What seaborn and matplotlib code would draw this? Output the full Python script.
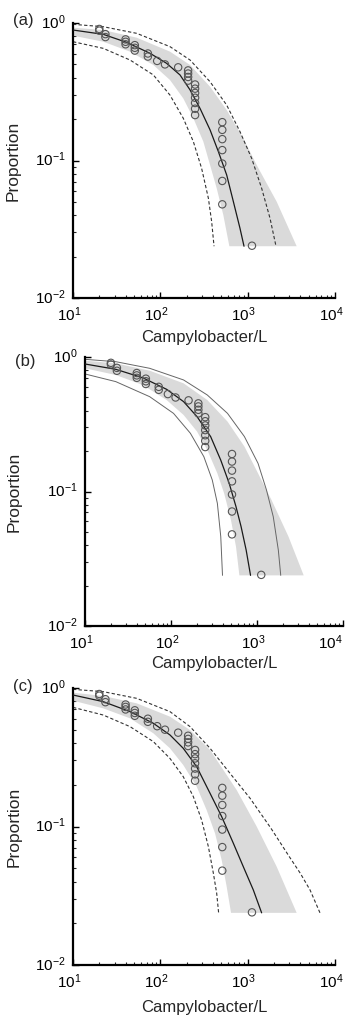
import matplotlib
matplotlib.use("Agg")
import matplotlib.pyplot as plt
import pandas as pd
import seaborn as sns
from matplotlib.ticker import LogLocator, NullFormatter
from matplotlib.transforms import ScaledTranslation

# Observed concentrations and the proportion of samples exceeding them
obs_conc = [20, 20, 23.5, 23.5, 40, 40, 40, 51, 51, 51, 72, 72, 92, 113, 160,
            208, 208, 208, 208, 250, 250, 250, 250, 250, 250, 250,
            512, 512, 512, 512, 512, 512, 512, 1120]
obs_prop = [0.905, 0.88, 0.83, 0.79, 0.76, 0.73, 0.70, 0.69, 0.66, 0.63, 0.60, 0.57,
            0.53, 0.50, 0.476, 0.452, 0.429, 0.405, 0.381, 0.357, 0.333, 0.31, 0.286,
            0.262, 0.238, 0.214, 0.19, 0.167, 0.143, 0.119, 0.095, 0.071, 0.048, 0.024]

# (a) fitted curve, outer bounds and shaded interval
a_mid_x = [10, 22.2, 41.2, 76.2, 118, 168, 219, 285, 371, 462, 575, 686, 817, 908]
a_mid_y = [0.889, 0.827, 0.723, 0.602, 0.509, 0.419, 0.326, 0.239, 0.167, 0.116, 0.0785, 0.0502, 0.0321, 0.0238]
a_hi_x = [10, 22.2, 53.6, 129, 219, 371, 575, 817, 1111, 1446, 1803, 2111]
a_hi_y = [0.978, 0.94, 0.841, 0.673, 0.538, 0.374, 0.253, 0.162, 0.1037, 0.0628, 0.038, 0.0238]
a_lo_x = [10, 22.2, 45, 83.2, 129, 183, 239, 297, 355, 387, 412]
a_lo_y = [0.731, 0.654, 0.538, 0.419, 0.299, 0.203, 0.137, 0.0877, 0.0531, 0.0359, 0.0238]
a_band_hi_x = [10, 22.2, 53.6, 129, 219, 371, 575, 891, 1268, 2148, 3640]
a_band_hi_y = [0.925, 0.889, 0.782, 0.619, 0.495, 0.344, 0.233, 0.145, 0.0927, 0.0502, 0.0238]
a_band_lo_x = [10, 22.2, 45, 83.2, 129, 183, 239, 311, 371, 442, 526, 617]
a_band_lo_y = [0.809, 0.731, 0.619, 0.495, 0.385, 0.283, 0.203, 0.137, 0.0927, 0.0628, 0.0402, 0.0238]

# (b)
b_mid_x = [10, 22.8, 47.1, 88.9, 140, 201, 289, 379, 475, 570, 653, 748, 841]
b_mid_y = [0.887, 0.81, 0.7, 0.575, 0.466, 0.36, 0.256, 0.171, 0.115, 0.0771, 0.0548, 0.0367, 0.0238]
b_hi_x = [10, 22.8, 56.5, 140, 264, 454, 714, 1028, 1289, 1545, 1770, 1888]
b_hi_y = [0.961, 0.923, 0.824, 0.675, 0.522, 0.381, 0.256, 0.162, 0.1026, 0.065, 0.0367, 0.0238]
b_lo_x = [10, 22.8, 56.5, 107, 168, 241, 302, 346, 379, 397]
b_lo_y = [0.748, 0.656, 0.507, 0.381, 0.271, 0.1815, 0.1217, 0.0817, 0.0462, 0.0238]
b_band_hi_x = [10, 22.8, 56.5, 140, 264, 454, 714, 1028, 1475, 2323, 3490]
b_band_hi_y = [0.939, 0.897, 0.791, 0.637, 0.479, 0.331, 0.216, 0.1365, 0.0865, 0.0462, 0.0238]
b_band_lo_x = [10, 22.8, 47.1, 88.9, 140, 201, 264, 346, 415, 498, 570, 624]
b_band_lo_y = [0.824, 0.735, 0.619, 0.479, 0.371, 0.279, 0.204, 0.1365, 0.0969, 0.0614, 0.0389, 0.0238]

# (c)
c_mid_x = [10, 22.2, 45, 83.2, 129, 183, 261, 371, 504, 686, 891, 1161, 1445]
c_mid_y = [0.89, 0.797, 0.675, 0.556, 0.458, 0.367, 0.270, 0.1736, 0.1178, 0.0756, 0.0513, 0.0348, 0.0238]
c_hi_x = [10, 22.2, 53.6, 129, 219, 371, 628, 1064, 1850, 3000, 4000, 5180, 6730]
c_hi_y = [0.978, 0.941, 0.842, 0.675, 0.526, 0.367, 0.242, 0.16, 0.097, 0.0605, 0.046, 0.0348, 0.0238]
c_lo_x = [10, 22.2, 45, 83.2, 129, 183, 239, 297, 355, 405, 442, 465]
c_lo_y = [0.725, 0.638, 0.526, 0.41, 0.31, 0.229, 0.164, 0.1114, 0.0715, 0.0459, 0.0329, 0.0238]
c_band_hi_x = [10, 22.2, 53.6, 129, 219, 371, 748, 1268, 2148, 3640]
c_band_hi_y = [0.925, 0.876, 0.775, 0.621, 0.497, 0.357, 0.1834, 0.1, 0.0513, 0.0238]
c_band_lo_x = [10, 22.2, 45, 83.2, 129, 183, 261, 339, 423, 504, 575, 645]
c_band_lo_y = [0.81, 0.713, 0.604, 0.471, 0.367, 0.278, 0.194, 0.1315, 0.0893, 0.0573, 0.0368, 0.0238]

x_ticks = [10, 100, 1000, 10000]
x_tick_labels = [r"$\mathdefault{10^{1}}$", r"$\mathdefault{10^{2}}$",
                 r"$\mathdefault{10^{3}}$", r"$\mathdefault{10^{4}}$"]
y_ticks = [0.01, 0.1, 1]
y_tick_labels = [r"$\mathdefault{10^{-2}}$", r"$\mathdefault{10^{-1}}$", r"$\mathdefault{10^{0}}$"]
panel_labels = ["(a)", "(b)", "(c)"]
x_label = "Campylobacter/L"
y_label = "Proportion"

sns.set_theme(style="ticks")
plt.rcParams["font.family"] = ["Liberation Sans", "DejaVu Sans"]
plt.rcParams["mathtext.fontset"] = "custom"
plt.rcParams["mathtext.rm"] = "Liberation Sans"
plt.rcParams["mathtext.it"] = "Liberation Sans:italic"

fig = plt.figure(figsize=(3.46, 10.15), dpi=100)
W, H = 346.0, 1015.0


def add_axes(left, right, top, bottom):
    return fig.add_axes([left / W, 1 - bottom / H, (right - left) / W, (bottom - top) / H])


def shift(text, dx, dy):
    text.set_transform(text.get_transform()
                       + ScaledTranslation(dx / 100, dy / 100, fig.dpi_scale_trans))


panels = [
    dict(ax=add_axes(73, 335, 23, 298),
         mid=(a_mid_x, a_mid_y), hi=(a_hi_x, a_hi_y), lo=(a_lo_x, a_lo_y),
         band=(a_band_hi_x, a_band_hi_y, a_band_lo_x, a_band_lo_y),
         bound_style=dict(color="#333333", lw=0.8, dashes=(3, 2)),
         tag_xy=(13, 20), ylab_x=-0.198, xlab_y=-0.118, last_shift=0),
    dict(ax=add_axes(85, 343, 357, 626),
         mid=(b_mid_x, b_mid_y), hi=(b_hi_x, b_hi_y), lo=(b_lo_x, b_lo_y),
         band=(b_band_hi_x, b_band_hi_y, b_band_lo_x, b_band_lo_y),
         bound_style=dict(color="#666666", lw=0.7, dashes=None),
         tag_xy=(15, 361), ylab_x=-0.245, xlab_y=-0.113, last_shift=-9),
    dict(ax=add_axes(73, 335, 688, 965),
         mid=(c_mid_x, c_mid_y), hi=(c_hi_x, c_hi_y), lo=(c_lo_x, c_lo_y),
         band=(c_band_hi_x, c_band_hi_y, c_band_lo_x, c_band_lo_y),
         bound_style=dict(color="#333333", lw=0.8, dashes=(3, 2)),
         tag_xy=(13, 687), ylab_x=-0.195, xlab_y=-0.128, last_shift=0),
]

obs = pd.DataFrame({"conc": obs_conc, "prop": obs_prop})

for p, tag in zip(panels, panel_labels):
    ax = p["ax"]
    ax.set_xscale("log")
    ax.set_yscale("log")

    # shaded interval as a closed polygon (upper edge, then lower edge reversed)
    bhx, bhy, blx, bly = p["band"]
    ax.fill(list(bhx) + list(blx)[::-1], list(bhy) + list(bly)[::-1],
            color="#dadada", lw=0, zorder=1)

    bs = p["bound_style"]
    for xs, ys in (p["hi"], p["lo"]):
        df = pd.DataFrame({"x": xs, "y": ys})
        sns.lineplot(data=df, x="x", y="y", ax=ax, sort=False, estimator=None,
                     color=bs["color"], lw=bs["lw"], zorder=2)
        if bs["dashes"] is not None:
            ax.lines[-1].set_dashes(bs["dashes"])

    mdf = pd.DataFrame({"x": p["mid"][0], "y": p["mid"][1]})
    sns.lineplot(data=mdf, x="x", y="y", ax=ax, sort=False, estimator=None,
                 color="#1a1a1a", lw=0.9, zorder=3)

    sns.scatterplot(data=obs, x="conc", y="prop", ax=ax, marker="o", s=28,
                    facecolor="none", edgecolor="#555555", linewidth=0.8, zorder=4)

    ax.set_xlim(10, 1e4)
    ax.set_ylim(1e-2, 1)
    ax.set_xticks(x_ticks, x_tick_labels)
    ax.set_yticks(y_ticks, y_tick_labels)
    ax.xaxis.set_minor_locator(LogLocator(base=10, subs=range(2, 10), numticks=20))
    ax.yaxis.set_minor_locator(LogLocator(base=10, subs=range(2, 10), numticks=20))
    ax.xaxis.set_minor_formatter(NullFormatter())
    ax.yaxis.set_minor_formatter(NullFormatter())

    ax.tick_params(which="major", direction="in", length=4, width=1.0,
                   labelsize=11, colors="black")
    ax.tick_params(which="minor", direction="in", length=2.5, width=0.8)
    ax.tick_params(axis="x", which="major", pad=5.5)
    ax.tick_params(axis="y", which="major", pad=5)

    # keep the "10" of each decade label centred under its tick
    xt = ax.xaxis.get_major_ticks()
    for i, t in enumerate(xt):
        shift(t.label1, -4 + (p["last_shift"] if i == len(xt) - 1 else 0), 0)
    for t in ax.yaxis.get_major_ticks():
        shift(t.label1, 0, 2)

    for side in ("top", "right"):
        ax.spines[side].set_visible(False)
    for side in ("left", "bottom"):
        ax.spines[side].set_linewidth(1.6)
        ax.spines[side].set_color("black")

    ax.set_facecolor("white")
    ax.grid(False)
    ax.set_xlabel(x_label, fontsize=12)
    ax.set_ylabel(y_label, fontsize=12.5)
    ax.xaxis.set_label_coords(0.5, p["xlab_y"])
    ax.yaxis.set_label_coords(p["ylab_x"], 0.5)

    fig.text(p["tag_xy"][0] / W, 1 - p["tag_xy"][1] / H, tag, fontsize=12,
             ha="left", va="center")

fig.savefig("out.png", dpi=100, facecolor="white")
